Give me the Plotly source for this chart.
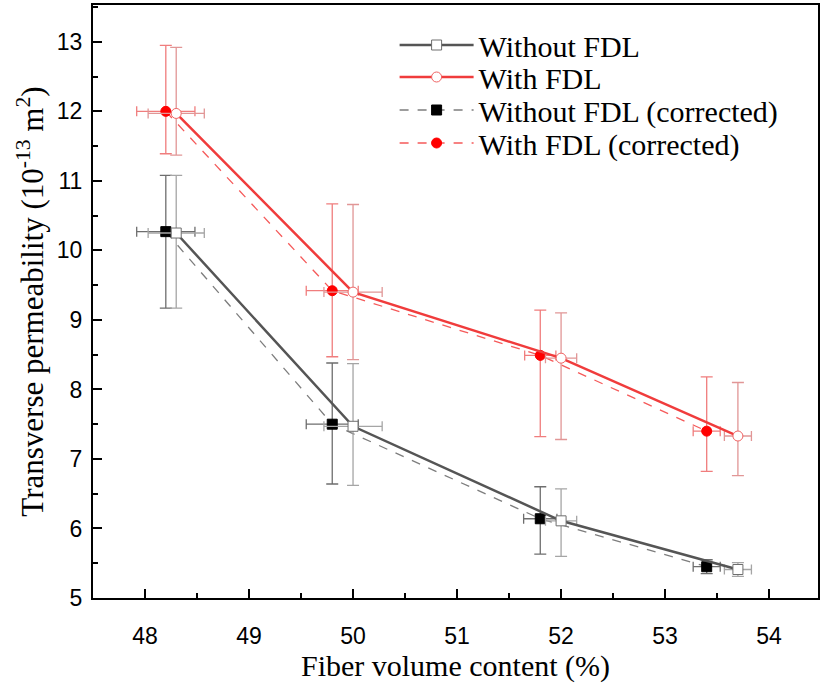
import plotly.graph_objects as go

# Data
x_wo = [48.3, 50.0, 52.0, 53.7]
y_wo = [10.25, 7.47, 6.11, 5.41]
ey_wo_plus = [0.83, 0.90, 0.46, 0.10]
ey_wo_minus = [1.08, 0.85, 0.51, 0.10]
ex_wo = [0.27, 0.28, 0.15, 0.13]

x_w = [48.3, 50.0, 52.0, 53.7]
y_w = [11.97, 9.40, 8.45, 7.33]
ey_w_plus = [0.95, 1.26, 0.65, 0.77]
ey_w_minus = [0.60, 0.97, 1.17, 0.57]
ex_w = [0.27, 0.28, 0.15, 0.13]

x_woc = [48.2, 49.8, 51.8, 53.4]
y_woc = [10.27, 7.50, 6.14, 5.45]
ey_woc_plus = [0.81, 0.88, 0.46, 0.10]
ey_woc_minus = [1.10, 0.86, 0.51, 0.10]
ex_woc = [0.28, 0.25, 0.16, 0.13]

x_wc = [48.2, 49.8, 51.8, 53.4]
y_wc = [12.00, 9.42, 8.49, 7.40]
ey_wc_plus = [0.95, 1.25, 0.65, 0.78]
ey_wc_minus = [0.61, 0.95, 1.17, 0.58]
ex_wc = [0.28, 0.25, 0.15, 0.13]

names = ["Without FDL", "With FDL", "Without FDL (corrected)", "With FDL (corrected)"]
x_ticks = [48, 49, 50, 51, 52, 53, 54]
y_ticks = [5, 6, 7, 8, 9, 10, 11, 12, 13]

GRAY = "rgb(85,85,85)"
RED = "rgb(240,60,60)"
SERIF = "Liberation Serif, Times New Roman, serif"
SANS = "Liberation Sans, Arial, sans-serif"


def trace(x, y, ep, em, ex, name, lcolor, dash, msym, mfill, mline, ecolor, lw, leg):
    return go.Scatter(
        x=x, y=y, name=name, mode="lines+markers", legend=leg,
        line=dict(color=lcolor, width=lw, dash=dash),
        marker=dict(symbol=msym, size=10, color=mfill, line=dict(color=mline, width=1)),
        error_y=dict(type="data", symmetric=False, array=ep, arrayminus=em,
                     color=ecolor, thickness=1.3, width=6),
        error_x=dict(type="data", array=ex, color=ecolor, thickness=1.3, width=5),
    )


fig = go.Figure()
fig.add_trace(trace(x_woc, y_woc, ey_woc_plus, ey_woc_minus, ex_woc, names[2],
                    "rgb(125,125,125)", "dash", "square", "black", "black", "rgb(110,110,110)", 1.3, "legend3"))
fig.add_trace(trace(x_wc, y_wc, ey_wc_plus, ey_wc_minus, ex_wc, names[3],
                    "rgb(245,90,90)", "dash", "circle", "red", "red", "rgb(240,125,125)", 1.3, "legend4"))
fig.add_trace(trace(x_wo, y_wo, ey_wo_plus, ey_wo_minus, ex_wo, names[0],
                    GRAY, "solid", "square", "white", "rgb(110,110,110)", "rgb(165,165,165)", 2.5, "legend"))
fig.add_trace(trace(x_w, y_w, ey_w_plus, ey_w_minus, ex_w, names[1],
                    RED, "solid", "circle", "white", "rgb(240,100,100)", "rgb(225,150,150)", 2.5, "legend2"))

axis_common = dict(
    showline=True, linecolor="black", linewidth=2, mirror=True,
    ticks="inside", ticklen=9, tickwidth=1.5, tickcolor="black",
    showgrid=False, zeroline=False,
    tickfont=dict(family=SANS, size=23, color="black"),
    minor=dict(ticks="inside", ticklen=5, tickwidth=1.5, tickcolor="black", showgrid=False),
)

fig.update_xaxes(range=[47.5, 54.47], tickvals=x_ticks, minor_dtick=0.5,
                 ticklabelstandoff=16,
                 title=dict(text="Fiber volume content (%)", standoff=3,
                            font=dict(family=SERIF, size=30, color="black")),
                 **axis_common)
fig.update_yaxes(range=[5, 13.53], tickvals=y_ticks, minor_dtick=0.5,
                 ticklabelstandoff=4,
                 title=dict(text="Transverse permeability (10<sup>-13</sup> m<sup>2</sup>)", standoff=4,
                            font=dict(family=SERIF, size=31, color="black")),
                 **axis_common)

leg_common = dict(x=0.416, xanchor="left", yanchor="middle", itemwidth=74,
                  font=dict(family=SERIF, size=30, color="black"),
                  bgcolor="rgba(0,0,0,0)")
row_px = [45, 77, 110, 143]
plot_top, plot_bot = 5, 598
ys = [(plot_bot - r) / (plot_bot - plot_top) for r in row_px]

fig.update_layout(
    width=823, height=687,
    margin=dict(l=93, r=3, t=5, b=89),
    plot_bgcolor="white", paper_bgcolor="white",
    legend=dict(y=ys[0], **leg_common),
    legend2=dict(y=ys[1], **leg_common),
    legend3=dict(y=ys[2], **leg_common),
    legend4=dict(y=ys[3], **leg_common),
    showlegend=True,
)

fig.write_html("out.html")
